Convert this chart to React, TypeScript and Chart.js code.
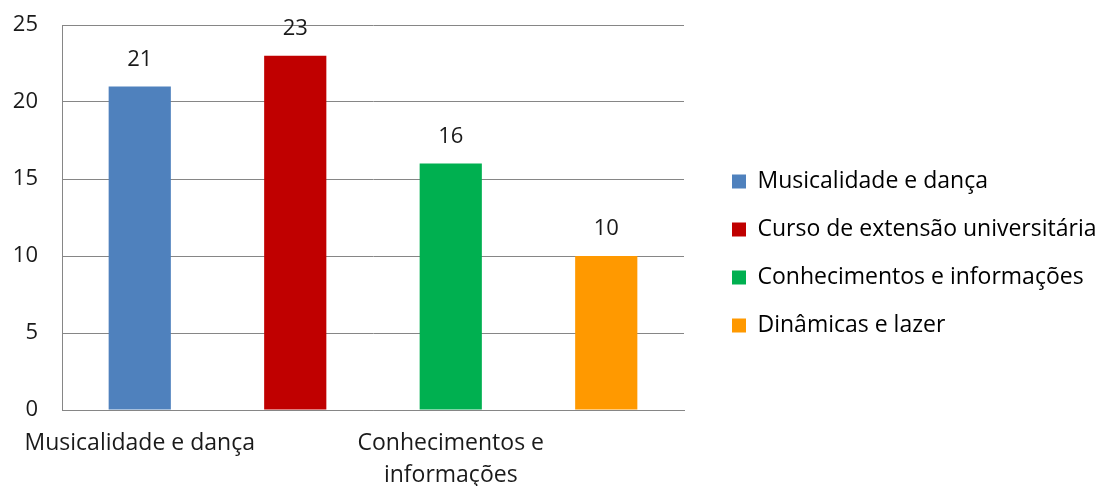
import React, { useEffect, useRef } from "react";
import { Chart, registerables } from "chart.js";

Chart.register(...registerables);

const categories = [
  "Musicalidade e dança",
  "Curso de extensão universitária",
  "Conhecimentos e informações",
  "Dinâmicas e lazer",
];
const values = [21, 23, 16, 10];
const colors = ["#4F81BD", "#C00000", "#00B050", "#FF9900"];
const xTickLabels: (string | string[])[] = [
  "Musicalidade e dança",
  "",
  ["Conhecimentos e", "informações"],
  "",
];
const FONT = "'Open Sans', sans-serif";
const FS = 23;

const valueLabels = {
  id: "valueLabels",
  afterDatasetsDraw(chart: any) {
    const ctx = chart.ctx;
    const meta = chart.getDatasetMeta(0);
    ctx.save();
    ctx.font = `${FS - 1}px ${FONT}`;
    ctx.fillStyle = "#1a1a1a";
    ctx.textAlign = "center";
    ctx.textBaseline = "middle";
    meta.data.forEach((bar: any, i: number) => {
      ctx.fillText(String(values[i]), bar.x, bar.y - 27);
    });
    ctx.restore();
  },
};

const legendLayout = {
  id: "legendLayout",
  beforeUpdate(chart: any) {
    const lg = chart.legend;
    if (lg && !lg._patched) {
      const orig = lg.fit.bind(lg);
      lg.fit = () => {
        orig();
        lg.width = 417;
      };
      lg._patched = true;
    }
  },
  afterLayout(chart: any) {
    const lg = chart.legend;
    if (lg) {
      lg.left += 23;
      lg.right += 23;
      lg.top -= 2;
      lg.bottom -= 2;
    }
  },
};

export default function App() {
  const ref = useRef<HTMLCanvasElement>(null);
  useEffect(() => {
    if (!ref.current) return;
    const chart = new Chart(ref.current, {
      type: "bar",
      data: {
        labels: categories,
        datasets: [
          {
            data: values,
            backgroundColor: colors,
            borderWidth: 0,
            categoryPercentage: 1,
            barPercentage: 0.4,
          },
        ],
      },
      options: {
        animation: false,
        responsive: false,
        layout: { padding: { top: 25, right: 0, left: 0, bottom: 0 } },
        plugins: {
          tooltip: { enabled: false },
          legend: {
            position: "right",
            labels: {
              boxWidth: 14,
              boxHeight: 14,
              padding: 25,
              color: "#1a1a1a",
              font: { family: FONT, size: FS },
              generateLabels: () =>
                categories.map((c, i) => ({
                  text: c,
                  fillStyle: colors[i],
                  strokeStyle: colors[i],
                  lineWidth: 0,
                  hidden: false,
                  index: i,
                  datasetIndex: 0,
                })),
            },
          },
        },
        scales: {
          x: {
            grid: { display: false, drawTicks: false },
            border: { display: true, color: "#868686", width: 1 },
            ticks: {
              autoSkip: false,
              maxRotation: 0,
              padding: 17,
              color: "#1a1a1a",
              font: { family: FONT, size: FS, lineHeight: 1.4 },
              callback: (_v: any, i: number) => xTickLabels[i],
            },
            afterFit: (s: any) => {
              s.height = 76;
              s.paddingLeft = 0;
              s.paddingRight = 0;
            },
          },
          y: {
            min: 0,
            max: 25,
            ticks: {
              stepSize: 5,
              padding: 24,
              color: "#1a1a1a",
              font: { family: FONT, size: FS - 1 },
            },
            grid: { color: "#868686", drawTicks: false },
            border: { display: true, color: "#868686", width: 1 },
            afterFit: (s: any) => {
              s.width = 62;
              s.paddingTop = 0;
              s.paddingBottom = 0;
            },
          },
        },
      },
      plugins: [valueLabels, legendLayout],
    });
    return () => chart.destroy();
  }, []);
  return (
    <div style={{ position: "fixed", left: 0, top: 0, width: 1101, height: 486, background: "#fff" }}>
      <canvas ref={ref} width={1101} height={486} style={{ display: "block" }} />
    </div>
  );
}
